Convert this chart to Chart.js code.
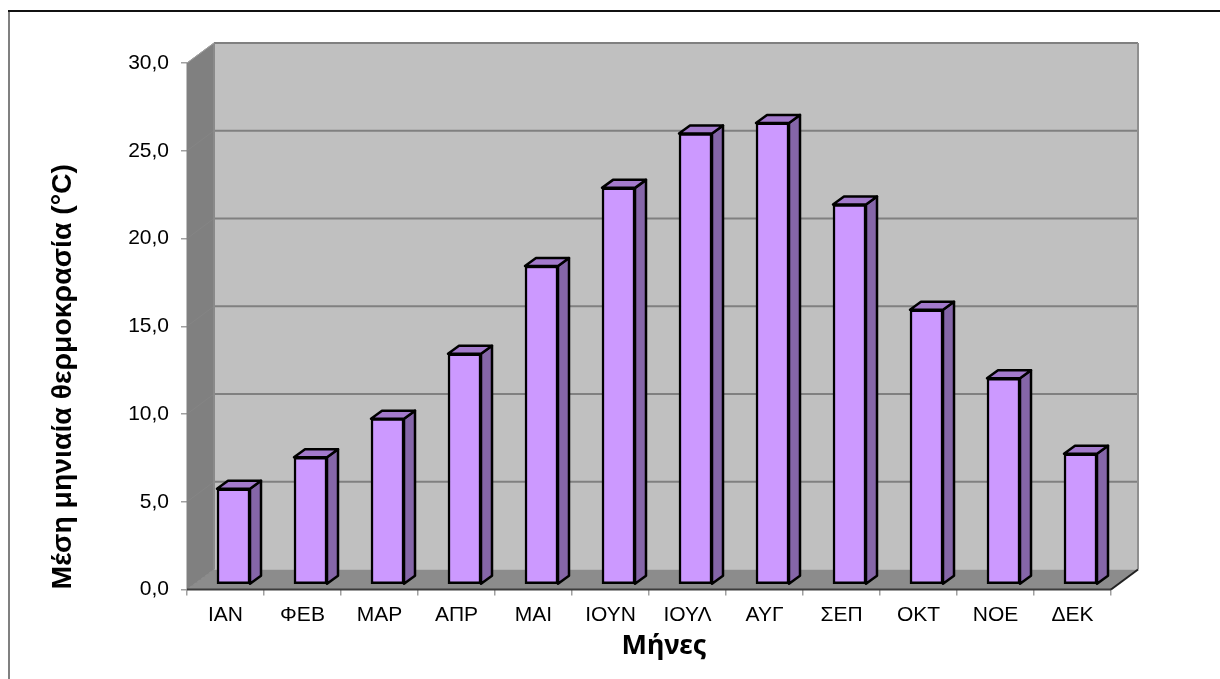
<!DOCTYPE html>
<html>
<head>
<meta charset="utf-8">
<script src="https://cdn.jsdelivr.net/npm/chart.js@4/dist/chart.umd.min.js"></script>
<style>
  body { margin: 0; background: #fff; }
  canvas { display: block; }
</style>
</head>
<body>
<canvas id="chart" width="1220" height="679"></canvas>
<script>
const months = ["ΙΑΝ", "ΦΕΒ", "ΜΑΡ", "ΑΠΡ", "ΜΑΙ", "ΙΟΥΝ", "ΙΟΥΛ", "ΑΥΓ", "ΣΕΠ", "ΟΚΤ", "ΝΟΕ", "ΔΕΚ"];
const temperatures = [5.45, 7.25, 9.45, 13.15, 18.15, 22.6, 25.7, 26.3, 21.65, 15.65, 11.75, 7.45];
const yTitle = "Μέση μηνιαία θερμοκρασία (°C)";
const xTitle = "Μήνες";

const FONT = "'Liberation Sans', Arial, sans-serif";
// 3d look: how far the back wall and the bars sit behind the front plane
const WALL_DX = 27, WALL_DY = 20;
const BAR_DX = 11, BAR_DY = 8;
const BAR_SHIFT_X = 8, BAR_SHIFT_Y = 5;

function poly(ctx, pts, fill, stroke, lineWidth) {
  ctx.beginPath();
  pts.forEach((p, i) => (i ? ctx.lineTo(p[0], p[1]) : ctx.moveTo(p[0], p[1])));
  ctx.closePath();
  if (fill) {
    ctx.fillStyle = fill;
    ctx.fill();
  }
  if (stroke) {
    ctx.strokeStyle = stroke;
    ctx.lineWidth = lineWidth;
    ctx.lineJoin = "round";
    ctx.stroke();
  }
}

function line(ctx, x1, y1, x2, y2, color, width) {
  ctx.beginPath();
  ctx.moveTo(x1, y1);
  ctx.lineTo(x2, y2);
  ctx.strokeStyle = color;
  ctx.lineWidth = width;
  ctx.stroke();
}

const frame3d = {
  id: "frame3d",
  beforeDraw(chart) {
    const ctx = chart.ctx;
    ctx.save();
    line(ctx, 9, 10, 9, 679, "#808080", 2);
    line(ctx, 8, 11, 1220, 11, "#111", 2);
    ctx.restore();
  },
  beforeDatasetsDraw(chart) {
    const ctx = chart.ctx;
    const { left, right, top, bottom } = chart.chartArea;
    const y = chart.scales.y;
    const dx = WALL_DX, dy = WALL_DY;
    ctx.save();
    // back wall, side wall, floor
    poly(ctx, [[left + dx, top - dy], [right + dx, top - dy], [right + dx, bottom - dy], [left + dx, bottom - dy]], "#c0c0c0");
    poly(ctx, [[left, top], [left + dx, top - dy], [left + dx, bottom - dy], [left, bottom]], "#808080");
    poly(ctx, [[left, bottom], [left + dx, bottom - dy], [right + dx, bottom - dy], [right, bottom]], "#8c8c8c");
    y.ticks.forEach((t) => {
      const py = y.getPixelForValue(t.value);
      line(ctx, left, py, left + dx, py - dy, "#858585", 1);
      if (t.value > 0) line(ctx, left + dx, py - dy, right + dx, py - dy, "#808080", 2);
    });
    line(ctx, left + dx, top - dy, left + dx, bottom - dy, "#8a8a8a", 2);
    line(ctx, right + dx, top - dy, right + dx, bottom - dy, "#8f8f8f", 2);
    line(ctx, left, top, left + dx, top - dy, "#a0a0a0", 1);
    line(ctx, left, top, left, bottom, "#808080", 1);
    line(ctx, left, bottom, right, bottom, "#3c3c3c", 2);
    line(ctx, right, bottom, right + dx, bottom - dy, "#222", 2);
    ctx.restore();
  },
  beforeDatasetDraw(chart, args) {
    const ctx = chart.ctx;
    ctx.save();
    ctx.translate(BAR_SHIFT_X, -BAR_SHIFT_Y);
    // side and top faces, the library draws the front face on top
    args.meta.data.forEach((bar) => {
      const l = bar.x - bar.width / 2, r = bar.x + bar.width / 2;
      const t = bar.y, b = bar.base;
      poly(ctx, [[r, t], [r + BAR_DX, t - BAR_DY], [r + BAR_DX, b - BAR_DY], [r, b]], "#8566a8", "#000", 2.5);
      poly(ctx, [[l, t], [l + BAR_DX, t - BAR_DY], [r + BAR_DX, t - BAR_DY], [r, t]], "#a37acc", "#000", 2.5);
    });
  },
  afterDatasetDraw(chart) {
    chart.ctx.restore();
  },
  afterDraw(chart) {
    // the x title sits off the axis centre in the original, so it is placed by hand
    const ctx = chart.ctx;
    ctx.save();
    ctx.font = "bold 27px 'Noto Sans', sans-serif";
    ctx.fillStyle = "#000";
    ctx.textAlign = "center";
    ctx.textBaseline = "alphabetic";
    ctx.fillText(xTitle, 664, 654);
    ctx.restore();
  }
};

new Chart(document.getElementById("chart"), {
  type: "bar",
  data: {
    labels: months,
    datasets: [{
      data: temperatures,
      backgroundColor: "#cc99ff",
      borderColor: "#000",
      borderWidth: 2.5,
      borderSkipped: false,
      barThickness: 33
    }]
  },
  plugins: [frame3d],
  options: {
    responsive: false,
    animation: false,
    layout: { padding: { left: 0, top: 63, right: 109, bottom: 0 } },
    plugins: { legend: { display: false }, tooltip: { enabled: false } },
    scales: {
      x: {
        afterFit: (axis) => { axis.height = 89.5; },
        grid: { drawOnChartArea: false, tickLength: 6, color: "#a0a0a0", lineWidth: 1.5 },
        border: { display: false },
        ticks: { color: "#000", font: { family: FONT, size: 21 }, padding: 7, maxRotation: 0 }
      },
      y: {
        min: 0,
        max: 30,
        afterFit: (axis) => { axis.width = 187; },
        grid: { drawOnChartArea: false, tickLength: 6, color: "#a0a0a0", lineWidth: 1.5 },
        border: { display: false },
        ticks: {
          stepSize: 5,
          color: "#000",
          font: { family: FONT, size: 21 },
          padding: 12,
          callback: (v) => v.toFixed(1).replace(".", ",")
        },
        title: { display: true, text: yTitle, align: "start", color: "#000", font: { family: FONT, size: 28.4, weight: "bold" }, padding: { top: 46, bottom: 0 } }
      }
    }
  }
});
</script>
</body>
</html>
